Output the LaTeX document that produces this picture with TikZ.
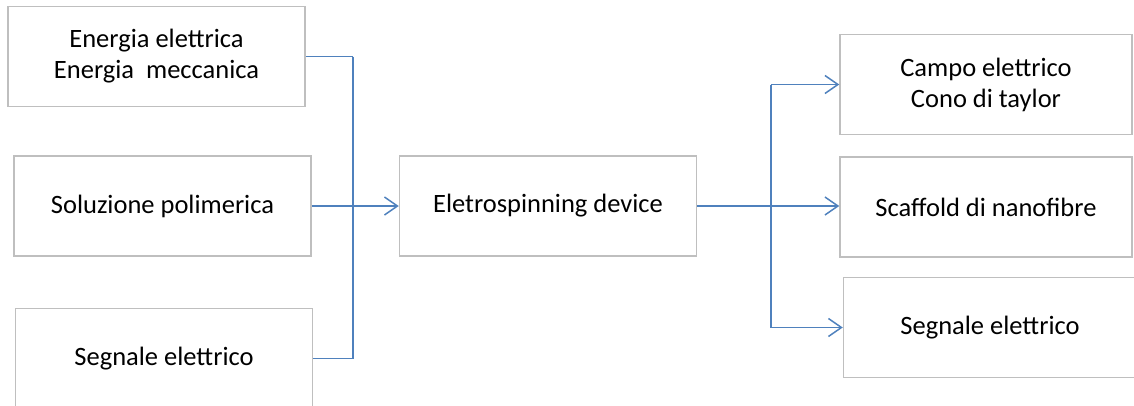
\documentclass[tikz,border=0pt]{standalone}
\usepackage{fontspec}
\setmainfont{Carlito}
\usepackage{tikz}
\usetikzlibrary{arrows.meta,positioning}
\definecolor{linkblue}{RGB}{79,129,189}
\definecolor{boxgray}{RGB}{191,191,191}

\begin{document}
\begin{tikzpicture}[x=1pt,y=-1pt,node distance=48pt and 87pt,>={Straight Barb[length=13pt,width=18pt]}]
  \tikzstyle{block}=[align=center,rectangle,draw=boxgray,line width=1.5pt,minimum width=297pt,minimum height=100pt,font=\fontsize{26.5}{31}\selectfont,inner sep=0pt]
  \tikzstyle{link}=[draw=linkblue,line width=1.5pt]

  \useasboundingbox (0,0) rectangle (1134,405);

  % Device in the middle.
  \node [block] (dev) at (548,206) {Eletrospinning device};

  % Inputs.
  \node [block] (sol) [left=of dev] {Soluzione polimerica};
  \node [block] (energy) [above=of sol,xshift=-6pt] {Energia elettrica\\Energia~ meccanica};
  \node [block] (signalin) [below=51pt of sol,xshift=1.5pt] {Segnale elettrico};

  % Outputs.
  \node [block,minimum width=292pt] (scaffold) [right=142pt of dev,yshift=-1pt] {Scaffold di nanofibre};
  \node [block,minimum width=292pt] (field) [above=21pt of scaffold] {Campo elettrico\\Cono di taylor};
  \node [block,minimum width=293pt] (signalout) [below=19pt of scaffold,xshift=4pt] {Segnale elettrico};

  \coordinate (joinin) at (353,206);
  \coordinate (joinout) at (771,208);

  \begin{scope}[link]
    \path (energy.east) edge (joinin |- energy.east);
    \path (joinin |- energy.east) edge (joinin |- signalin.east);
    \path (signalin.east) edge (joinin |- signalin.east);
    \path (sol.east) edge [->] (dev.west);

    \path (dev.east) edge [->] (scaffold.west |- dev.east);
    \path (joinout |- field.west) edge (joinout |- signalout.west);
    \path (joinout |- field.west) edge [->] (field.west);
    \path (joinout |- signalout.west) edge [->] (signalout.west);
  \end{scope}
\end{tikzpicture}
\end{document}
